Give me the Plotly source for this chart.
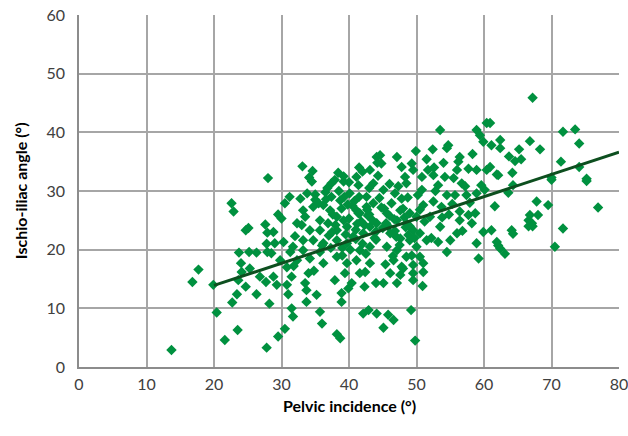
import plotly.graph_objects as go

# Pelvic incidence (x) and ischio-iliac angle (y)
pelvic_incidence = [
    13.7, 16.8, 17.7, 19.9, 20.4, 21.6, 22.6, 22.9, 22.7, 23.4, 23.5, 23.6, 23.7, 24.0, 24.1, 24.7, 24.7, 25.1,
    25.2, 25.3, 26.3, 26.3, 26.8, 27.6, 27.7, 27.8, 27.8, 27.9, 27.9, 28.0, 28.2, 28.5, 28.8, 28.8, 29.0,
    29.3, 29.5, 29.8, 30.3, 30.5, 30.5, 30.8, 31.0, 31.3, 31.5, 31.5, 31.7, 31.7, 32.3, 32.3, 33.1, 33.2,
    33.2, 33.2, 33.5, 33.5, 33.7, 33.7, 34.0, 34.1, 34.2, 34.2, 34.5, 34.6, 34.7, 34.7, 35.2, 35.7, 35.7,
    35.7, 35.7, 36.0, 36.2, 36.2, 36.2, 36.9, 37.2, 37.4, 37.4, 37.9, 37.9, 38.2, 38.2, 38.2, 38.2, 38.2,
    38.4, 38.7, 38.7, 38.9, 38.9, 38.9, 39.2, 39.2, 39.2, 39.4, 39.7, 39.7, 39.7, 39.9, 40.1, 40.4, 40.6,
    41.1, 41.1, 41.1, 41.4, 41.4, 41.5, 41.6, 41.6, 41.6, 42.0, 42.1, 42.1, 42.3, 42.4, 42.6, 42.6, 42.9,
    43.1, 43.1, 43.1, 43.1, 43.6, 43.6, 44.0, 44.1, 44.1, 44.1, 44.2, 44.6, 44.8, 45.1, 45.1, 45.1, 45.6,
    45.6, 45.8, 46.1, 46.1, 46.3, 46.6, 46.6, 46.8, 47.1, 47.1, 47.1, 47.1, 47.6, 47.6, 47.6, 47.8, 47.8,
    48.3, 48.5, 48.5, 48.5, 49.0, 49.0, 49.2, 49.3, 49.5, 49.5, 49.5, 49.5, 49.5, 49.8, 49.9, 50.0, 50.0,
    50.5, 50.5, 50.8, 50.8, 50.9, 51.0, 51.0, 51.0, 51.5, 51.5, 51.7, 52.0, 52.4, 52.5, 52.5, 53.2, 53.2,
    53.5, 53.5, 53.7, 54.0, 54.2, 54.5, 54.5, 54.5, 54.7, 55.0, 55.7, 56.0, 56.2, 56.4, 56.4, 56.4, 56.7,
    57.4, 57.7, 57.7, 58.2, 58.3, 58.7, 58.9, 58.9, 58.9, 58.9, 59.2, 59.4, 59.9, 59.9, 60.1, 60.4, 60.4,
    60.9, 60.9, 61.1, 61.1, 61.6, 61.9, 61.9, 62.1, 62.1, 62.4, 62.4, 62.4, 63.1, 63.6, 63.7, 64.1, 64.2,
    64.3, 64.3, 64.6, 65.2, 65.5, 66.6, 66.6, 66.8, 66.8, 67.1, 67.2, 67.2, 67.8, 68.0, 68.3, 69.5, 70.0,
    70.0, 70.5, 71.4, 71.7, 71.7, 73.5, 74.1, 74.1, 75.2, 75.2, 76.9,
    # dense core
    35.0, 36.5, 37.0, 38.0, 39.0, 40.0, 40.5, 41.0, 42.0, 43.0, 44.5, 45.0, 46.0, 47.0, 48.0, 49.0,
    36.0, 37.5, 39.5, 40.2, 41.8, 42.8, 43.8, 44.8, 45.8, 46.8, 47.8, 48.8, 39.0, 40.8, 42.5, 44.0,
    45.5, 47.5, 48.2, 49.7, 36.8, 38.5, 40.0, 41.5, 43.0, 44.3, 46.0, 47.3, 48.7, 50.2, 37.6, 39.8,
    41.2, 42.7, 44.0, 45.4, 46.5, 48.0, 49.3, 50.5, 35.5, 37.3, 39.3, 41.0, 42.3, 43.5, 45.2, 46.7,
    48.4, 51.2, 52.8, 53.8, 55.3, 56.8, 57.2, 52.2, 54.8, 56.0, 57.9, 59.6, 52.6, 55.5, 31.2, 32.8,
    30.0, 32.0, 33.8, 35.0, 29.5, 31.8, 33.0, 34.8, 36.6, 30.8,
]
ischio_iliac_angle = [
    2.9, 14.5, 16.6, 14.0, 9.3, 4.6, 27.9, 26.5, 11.0, 12.4, 6.3, 14.8, 19.5, 17.7, 16.2, 23.3, 13.7, 23.7,
    19.6, 16.8, 19.5, 12.4, 15.4, 24.3, 14.5, 21.0, 3.3, 22.9, 19.6, 32.2, 10.8, 19.4, 23.0, 15.4, 21.1,
    14.0, 5.2, 18.2, 21.3, 6.5, 27.9, 14.0, 12.4, 19.6, 10.0, 15.4, 8.6, 20.5, 24.5, 18.2, 34.2, 26.7,
    21.6, 19.9, 25.6, 14.3, 11.1, 13.1, 16.0, 32.3, 23.3, 18.5, 31.6, 33.4, 27.3, 21.6, 12.3, 9.4, 25.0,
    23.3, 19.6, 7.4, 27.6, 21.1, 17.7, 24.5, 26.7, 31.3, 29.0, 31.9, 14.8, 25.6, 23.3, 21.6, 18.8, 5.6,
    33.1, 28.4, 4.9, 27.0, 11.1, 12.6, 31.6, 25.0, 32.5, 16.0, 23.9, 21.1, 17.7, 13.4, 29.6, 14.3, 22.2,
    26.7, 18.2, 32.4, 31.0, 26.2, 34.0, 26.2, 19.9, 16.0, 33.3, 22.8, 9.1, 13.7, 16.2, 29.0, 27.3, 9.7,
    23.9, 20.5, 17.7, 33.6, 27.9, 31.3, 14.3, 24.5, 35.8, 9.1, 34.8, 36.1, 34.7, 30.2, 14.3, 6.7, 26.2,
    20.5, 8.9, 22.8, 16.0, 27.9, 8.0, 18.2, 29.6, 25.0, 19.9, 35.8, 14.3, 26.7, 21.9, 15.7, 34.1, 17.1,
    32.4, 31.3, 24.5, 18.8, 26.2, 21.6, 9.7, 34.7, 33.6, 23.3, 17.4, 16.0, 14.8, 4.5, 36.8, 25.6, 20.5,
    22.8, 18.8, 30.2, 32.4, 13.8, 27.6, 17.7, 16.2, 35.4, 21.6, 33.6, 25.6, 37.1, 28.2, 32.7, 31.0, 21.3,
    40.4, 23.9, 27.3, 34.8, 32.4, 37.3, 29.3, 19.6, 37.8, 21.6, 29.3, 33.6, 35.0, 35.8, 26.5, 25.0, 31.3,
    29.3, 25.9, 33.8, 24.5, 36.3, 26.2, 40.4, 33.6, 29.6, 21.1, 18.5, 39.5, 38.4, 23.0, 30.2, 41.6, 33.6,
    41.6, 34.1, 37.8, 23.3, 27.4, 32.8, 21.3, 32.7, 20.7, 38.7, 37.3, 20.2, 19.3, 29.7, 35.9, 23.3, 33.1,
    31.0, 22.7, 35.1, 37.1, 35.4, 25.0, 24.0, 38.5, 25.9, 24.5, 45.9, 24.0, 28.2, 25.9, 37.1, 27.6, 31.9,
    32.3, 20.5, 35.0, 40.1, 23.6, 40.5, 38.1, 34.1, 32.1, 31.7, 27.2,
    # dense core
    28.5, 29.8, 22.4, 24.2, 20.3, 25.3, 27.5, 23.4, 21.0, 26.0, 28.8, 23.7, 25.8, 22.2, 27.0, 24.0,
    20.7, 23.0, 22.6, 20.0, 24.8, 25.8, 22.0, 27.2, 24.0, 23.2, 28.7, 22.5, 19.0, 28.3, 19.3, 21.7,
    24.5, 20.8, 25.5, 22.0, 30.5, 30.0, 31.5, 29.0, 30.5, 32.6, 31.2, 30.8, 28.9, 29.3, 26.0, 27.7,
    24.4, 26.8, 23.1, 17.5, 18.9, 16.8, 19.0, 26.8, 27.9, 20.3, 29.0, 21.8, 24.2, 25.0, 27.0, 25.2,
    23.8, 24.8, 30.0, 25.5, 27.8, 23.2, 30.8, 22.0, 26.0, 22.8, 28.0, 31.0, 34.0, 32.2, 29.0, 28.7,
    25.3, 22.3, 29.6, 29.4, 26.0, 17.2, 24.2, 16.4, 28.6, 17.0,
]

# Linear trend line end points
trend_x = [20, 80]
trend_y = [13.9, 36.6]

x_ticks = [0, 10, 20, 30, 40, 50, 60, 70, 80]
y_ticks = [0, 10, 20, 30, 40, 50, 60]
x_title = "Pelvic incidence (°)"
y_title = "Ischio-iliac angle (°)"

fig = go.Figure()
fig.add_trace(go.Scatter(
    x=pelvic_incidence, y=ischio_iliac_angle, mode="markers",
    marker=dict(symbol="diamond", size=8, color="#00913f", line=dict(width=0)),
    showlegend=False, hoverinfo="x+y", cliponaxis=False,
))
fig.add_trace(go.Scatter(
    x=trend_x, y=trend_y, mode="lines",
    line=dict(color="#0d4f1f", width=3),
    showlegend=False, hoverinfo="skip",
))

font_family = "Lato, 'Open Sans', sans-serif"
fig.update_layout(
    width=628, height=436,
    margin=dict(l=79, r=9, t=15, b=69, autoexpand=False),
    paper_bgcolor="white", plot_bgcolor="white",
    font=dict(family=font_family, size=16, color="#404040"),
    annotations=[
        dict(text="<b>" + x_title + "</b>", xref="paper", yref="paper", x=0.5, y=-0.108,
             xanchor="center", yanchor="middle", showarrow=False,
             font=dict(size=16, color="#000000", family=font_family)),
        dict(text="<b>" + y_title + "</b>", xref="paper", yref="paper", x=-0.109, y=0.5,
             xanchor="center", yanchor="middle", showarrow=False, textangle=-90,
             font=dict(size=16, color="#000000", family=font_family)),
    ],
)
fig.update_xaxes(
    range=[0, 80], tickvals=x_ticks, ticktext=[str(v) for v in x_ticks],
    showgrid=True, gridcolor="#a6a6a6", gridwidth=1.5,
    showline=True, linecolor="#8c8c8c", linewidth=1.5, mirror=False,
    zeroline=False, ticks="outside", ticklen=2, tickcolor="rgba(0,0,0,0)", automargin=False,
    ticklabeloverflow="allow",
    tickfont=dict(size=16, color="#404040"),
)
fig.update_yaxes(
    range=[0, 60], tickvals=y_ticks, ticktext=[str(v) for v in y_ticks],
    showgrid=True, gridcolor="#a6a6a6", gridwidth=1.5,
    showline=True, linecolor="#8c8c8c", linewidth=1.5,
    zeroline=False, ticks="outside", ticklen=9, tickcolor="rgba(0,0,0,0)", automargin=False,
    ticklabeloverflow="allow",
    tickfont=dict(size=16, color="#404040"),
)

fig.write_html("out.html", config={"displayModeBar": False},
               post_script="document.body.style.margin='0';")
